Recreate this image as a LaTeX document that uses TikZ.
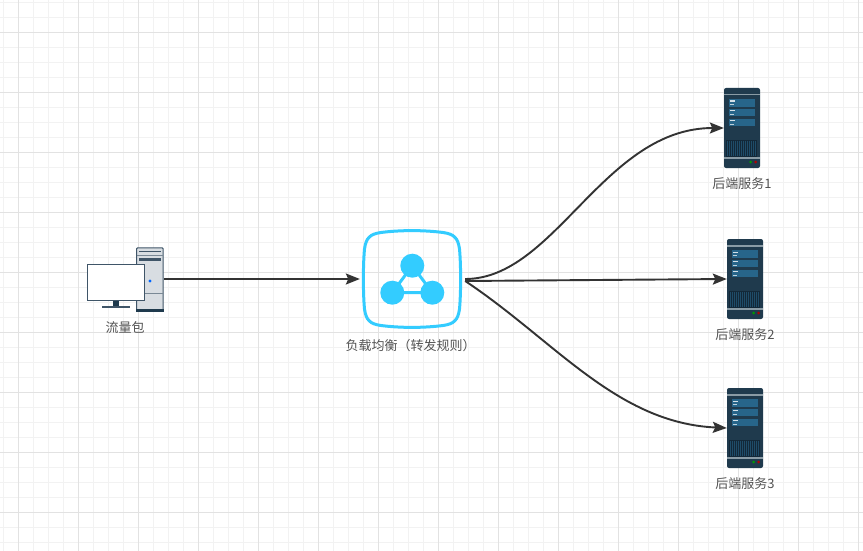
\documentclass[tikz,border=0pt]{standalone}
\usepackage{fontspec}
\setmainfont{Noto Sans CJK SC}
\definecolor{gridminor}{HTML}{F2F2F2}
\definecolor{gridmajor}{HTML}{E2E2E2}
\definecolor{serverdark}{HTML}{1F3A4D}
\definecolor{serverblue}{HTML}{27658A}
\definecolor{serverband}{HTML}{8A9BA5}
\definecolor{servervent}{HTML}{132838}
\definecolor{pcline}{HTML}{3F5568}
\definecolor{pcbody}{HTML}{D8DDE2}
\definecolor{balancerblue}{HTML}{33CCFF}
\definecolor{linkgray}{HTML}{333333}
\usetikzlibrary{arrows.meta}
\tikzset{
	iconbox/.style={inner sep=0pt,minimum width=#1},
	caption/.style={text=linkgray!85,font=\fontsize{13}{15}\selectfont,inner sep=0pt},
	link/.style={draw=linkgray,line width=1.9pt,-{Stealth[length=14pt,width=11pt,inset=2.5pt]}},
	backend/.pic={
		\fill[serverdark,rounded corners=2pt] (0,0) rectangle (36,80);
		\fill[serverband] (0,6) rectangle (36,7.5);
		\fill[serverband] (0,69.2) rectangle (36,71.2);
		\foreach \rowtop in {11.3,20.7,31}{
			\fill[serverblue] (4.7,\rowtop) rectangle (31,\rowtop+7.4);
			\fill[white!80!serverblue] (5.5,\rowtop+1.2) rectangle (11,\rowtop+2.4);
			\fill[white!70!serverblue] (5.5,\rowtop+5) rectangle (10,\rowtop+6);
		}
		\fill[servervent] (2,52) rectangle (33,68.5);
		\foreach \ventx in {3.5,5.5,...,32}{
			\draw[serverblue!60!servervent,line width=0.6pt] (\ventx,52.5) -- (\ventx,68);
		}
		\fill[green!60!black] (26.7,74) circle (1.5);
		\fill[red!70!black] (31.7,74) circle (1.5);
	}
}
\begin{document}
\begin{tikzpicture}[x=1pt,y=-1pt]
	\useasboundingbox (0,0) rectangle (863,551);
	\fill[white] (0,0) rectangle (863,551);
	% background grid
	\foreach \gx in {3.3,18.3,...,863}{
		\draw[gridminor,line width=0.8pt] (\gx,0) -- (\gx,551);
	}
	\foreach \gy in {2.3,17.3,...,551}{
		\draw[gridminor,line width=0.8pt] (0,\gy) -- (863,\gy);
	}
	\foreach \gx in {18.3,78.3,...,863}{
		\draw[gridmajor,line width=0.8pt] (\gx,0) -- (\gx,551);
	}
	\foreach \gy in {32.3,92.3,...,551}{
		\draw[gridmajor,line width=0.8pt] (0,\gy) -- (863,\gy);
	}

	% computer
	\draw[pcline,fill=pcbody,line width=1pt,rounded corners=1pt] (136.5,247.8) rectangle (163.2,311.2);
	\fill[serverdark] (136,309) rectangle (163.7,311.7);
	\draw[pcline,line width=1.5pt] (139.3,251.7) -- (160.7,251.7);
	\draw[pcline!70,line width=0.8pt] (136.5,255) -- (163.2,255);
	\fill[pcline] (139.3,258) rectangle (160.7,261.3);
	\draw[pcline!70,line width=0.8pt] (136.5,293.3) -- (163.2,293.3);
	\fill[blue!60!cyan] (150,281) circle (1.6);
	\draw[pcline,fill=white,line width=1pt] (87.8,264.8) rectangle (144.2,300.2);
	\fill[serverdark] (113,300.7) rectangle (119,306);
	\fill[pcline] (102.3,306) rectangle (130,307.7);
	\node[iconbox=77pt] (client) at (125.5,279) {};

	% balancer
	\draw[balancerblue,line width=3pt] (381,232.5)
		.. controls (400,230) and (424,230) .. (443,232.5)
		.. controls (454,234) and (458,238) .. (459.5,249)
		.. controls (461,265) and (461,293) .. (459.5,309)
		.. controls (458,320) and (454,324) .. (443,325.5)
		.. controls (424,328) and (400,328) .. (381,325.5)
		.. controls (370,324) and (366,320) .. (364.5,309)
		.. controls (363,293) and (363,265) .. (364.5,249)
		.. controls (366,238) and (370,234) .. (381,232.5) -- cycle;
	\draw[balancerblue,line width=3pt] (412.3,265.7) -- (392.3,292.7) -- (432.3,292.7) -- cycle;
	\fill[balancerblue] (412.3,265.7) circle (12);
	\fill[balancerblue] (392.3,292.7) circle (12);
	\fill[balancerblue] (432.3,292.7) circle (12);
	\node[iconbox=105pt] (balancer) at (412.5,279) {};

	% servers
	\pic at (724,88) {backend};
	\pic at (727,239) {backend};
	\pic at (727,388) {backend};
	\node[iconbox=36pt] (backendA) at (742,128) {};
	\node[iconbox=36pt] (backendB) at (745,279) {};
	\node[iconbox=36pt] (backendC) at (745,428) {};

	% captions
	\node[caption] (clientlabel) at (125,327.5) {流量包};
	\node[caption] (balancerlabel) at (410.5,345.5) {负载均衡（转发规则）};
	\node[caption] (backendAlabel) at (742,183.5) {后端服务1};
	\node[caption] (backendBlabel) at (745,334.5) {后端服务2};
	\node[caption] (backendClabel) at (745,483.5) {后端服务3};

	% links
	\draw[link] (client.east) -- (balancer.west);
	\draw[link] (balancer.east) .. controls +(90,0) and +(-120,0) .. (backendA.west);
	\draw[link] ([yshift=-2pt]balancer.east) -- (backendB.west);
	\draw[link] ([yshift=-2pt]balancer.east) .. controls +(90,60) and +(-110,-5) .. (backendC.west);
\end{tikzpicture}
\end{document}
